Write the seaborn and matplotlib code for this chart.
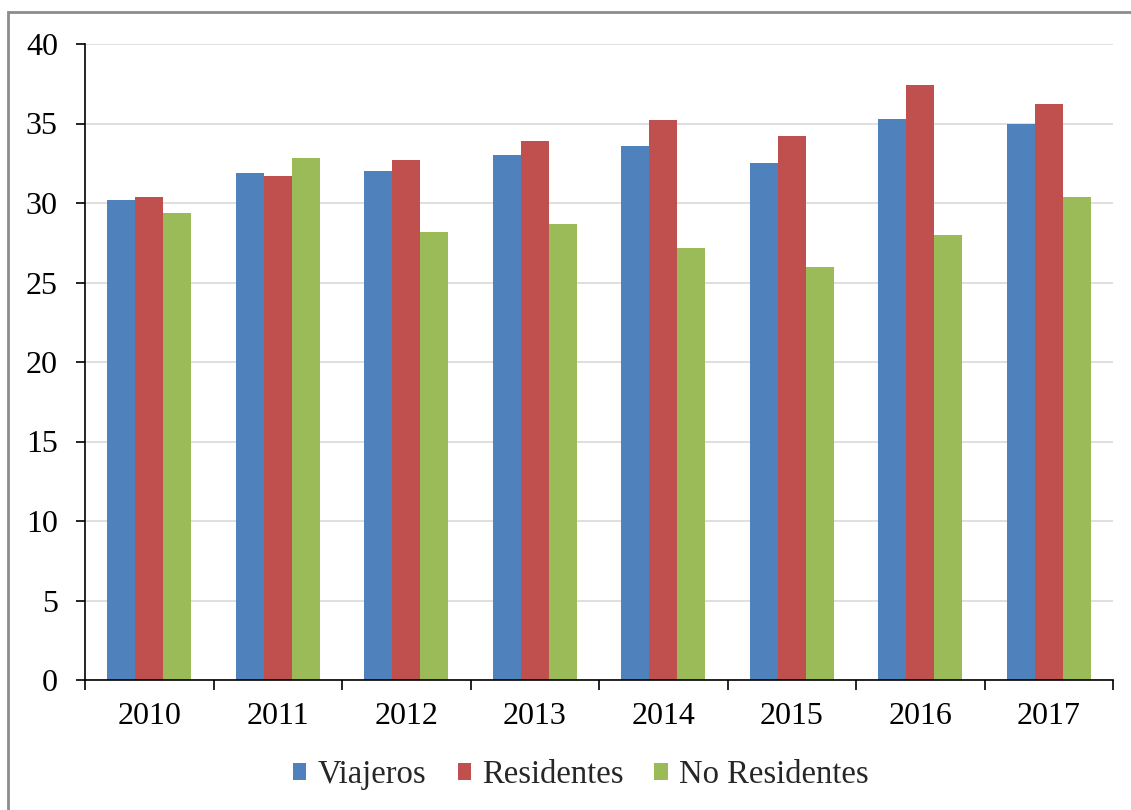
import numpy as np
import pandas as pd
import matplotlib
matplotlib.use("Agg")
import matplotlib.pyplot as plt
import seaborn as sns
from matplotlib.patches import Rectangle

years = ['2010', '2011', '2012', '2013', '2014', '2015', '2016', '2017']
viajeros = [30.2, 31.9, 32.0, 33.0, 33.6, 32.5, 35.3, 35.0]
residentes = [30.4, 31.7, 32.7, 33.9, 35.2, 34.2, 37.4, 36.2]
no_residentes = [29.4, 32.8, 28.2, 28.7, 27.2, 26.0, 28.0, 30.4]
series_names = ['Viajeros', 'Residentes', 'No Residentes']
colors = ['#4F81BD', '#C0504D', '#9BBB59']

df = pd.DataFrame({'Año': years * 3,
                   'Valor': viajeros + residentes + no_residentes,
                   'Serie': np.repeat(series_names, len(years))})

sns.set_theme(style='white')
plt.rcParams['font.family'] = ['Liberation Serif', 'DejaVu Serif']

fig = plt.figure(figsize=(11.31, 8.1), dpi=100)
ax = fig.add_axes([85 / 1131, 1 - 680 / 810, (1113 - 85) / 1131, (680 - 44) / 810])

sns.barplot(data=df, x='Año', y='Valor', hue='Serie', palette=colors,
            width=0.656, saturation=1, linewidth=0, ax=ax)

ax.set_ylim(0, 40)
ax.set_xlim(-0.5, 7.5)
ax.set_yticks(range(0, 41, 5))
ax.set_xlabel('')
ax.set_ylabel('')
ax.yaxis.grid(True, color='#D9D9D9', linewidth=1.2)
ax.set_axisbelow(True)
for s in ['top', 'right']:
    ax.spines[s].set_visible(False)
for s in ['left', 'bottom']:
    ax.spines[s].set_color('black')
    ax.spines[s].set_linewidth(1.2)

ax.tick_params(axis='y', which='major', direction='out', length=6.5, width=1.2,
               labelsize=23, pad=13, left=True, colors='black')
ax.tick_params(axis='x', which='major', length=0, labelsize=23, pad=16, colors='black')
ax.set_xticks(np.arange(-0.5, 8, 1), minor=True)
ax.tick_params(axis='x', which='minor', direction='out', length=7, width=1.2,
               bottom=True, colors='black')

handles, labels = ax.get_legend_handles_labels()
ax.legend(handles, labels, loc='center', bbox_to_anchor=(581 / 1131, 1 - 775 / 810),
          bbox_transform=fig.transFigure, ncol=3, frameon=False, fontsize=23.5,
          handlelength=0.4, handleheight=0.4, handletextpad=0.35, columnspacing=0.95)

fig.patches.append(Rectangle((8 / 1131, -0.01), 1.02, 1 - 12 / 810 + 0.01,
                             transform=fig.transFigure, fill=False,
                             edgecolor='#8C8C8C', linewidth=2, zorder=-1))

fig.savefig('out.png', dpi=100)
